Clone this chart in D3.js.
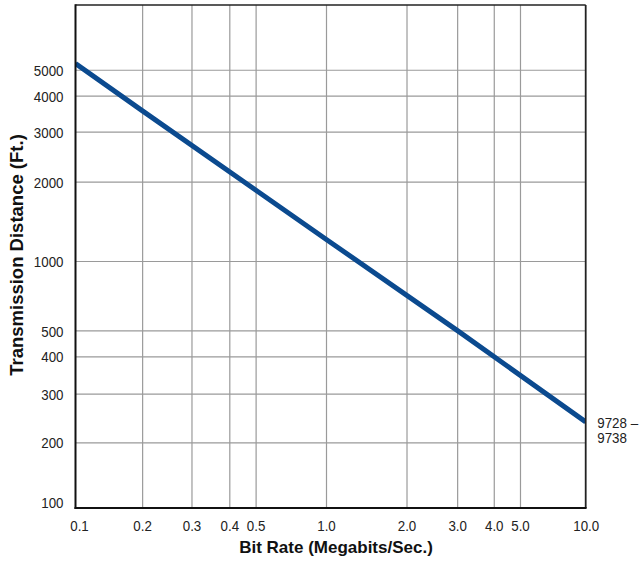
<!DOCTYPE html>
<html>
<head>
<meta charset="utf-8">
<script src="https://cdn.jsdelivr.net/npm/d3@7"></script>
<style>
    body { margin: 0; background: #fff; }
    .ticks text, .note { font-family: "Liberation Sans", Arial, sans-serif; font-size: 15.5px; fill: #222; }
    .axis-title { font-family: "Liberation Sans", Arial, sans-serif; font-weight: bold; fill: #111; }
</style>
</head>
<body>
<svg id="chart" width="641" height="561"></svg>
<script>
// curve values
var bitRate = [0.1, 0.2, 0.5, 1.0, 3.0, 10.0];
var distance = [5340, 3550, 1860, 1210, 500, 237];

var xTicks = [0.1, 0.2, 0.3, 0.4, 0.5, 1.0, 2.0, 3.0, 4.0, 5.0, 10.0];
var xTickLabels = ["0.1", "0.2", "0.3", "0.4", "0.5", "1.0", "2.0", "3.0", "4.0", "5.0", "10.0"];
var yTicks = [100, 200, 300, 400, 500, 1000, 2000, 3000, 4000, 5000];
var yTickLabels = ["100", "200", "300", "400", "500", "1000", "2000", "3000", "4000", "5000"];
var partLabel = ["9728 \u2013", "9738"];

// the printed log paper is not an exact log ruling, so each decade
// is mapped piecewise through the positions of its 1..5,10 lines
var mantissa = [1, 2, 3, 4, 5, 10];
var lowerRuling = [0, 0.266, 0.463, 0.614, 0.719, 1];
var upperRuling = [0, 0.31, 0.505, 0.646, 0.747, 1];

function paperScale(start, r0, r1, r2) {
    var dom = [], rng = [];
    mantissa.forEach(function(m, i) {
        dom.push(start * m);
        rng.push(r0 + lowerRuling[i] * (r1 - r0));
    });
    mantissa.slice(1).forEach(function(m, i) {
        dom.push(start * 10 * m);
        rng.push(r1 + upperRuling[i + 1] * (r2 - r1));
    });
    return d3.scaleLog().domain(dom).range(rng);
}

var plotLeft = 75.5, plotRight = 585.7, plotTop = 5, plotBottom = 508;
var x = paperScale(0.1, plotLeft, 326, plotRight);
var y = paperScale(100, plotBottom, 261, plotTop);

var svg = d3.select("#chart");

// squeeze Liberation Sans to the narrow face of the original
function narrow(sel, k) {
    sel.each(function() {
        var w = this.getComputedTextLength();
        d3.select(this).attr("textLength", w * k).attr("lengthAdjust", "spacingAndGlyphs");
    });
}

// grid
svg.append("g")
    .attr("transform", "translate(0," + plotBottom + ")")
    .call(d3.axisBottom(x)
        .tickValues(xTicks.slice(1, -1))
        .tickSize(-(plotBottom - plotTop))
        .tickFormat(""))
    .call(function(g) { g.select(".domain").remove(); })
    .selectAll("line").attr("stroke", "#9a9a9a").attr("stroke-width", 1.2);

svg.append("g")
    .attr("transform", "translate(" + plotLeft + ",0)")
    .call(d3.axisLeft(y)
        .tickValues(yTicks.slice(1))
        .tickSize(-(plotRight - plotLeft))
        .tickFormat(""))
    .call(function(g) { g.select(".domain").remove(); })
    .selectAll("line").attr("stroke", "#9a9a9a").attr("stroke-width", 1.2);

// curve
svg.append("clipPath").attr("id", "plot-clip")
    .append("rect")
    .attr("x", plotLeft).attr("y", plotTop)
    .attr("width", plotRight - plotLeft).attr("height", plotBottom - plotTop);

var line = d3.line()
    .x(function(d) { return x(d[0]); })
    .y(function(d) { return y(d[1]); });

svg.append("path")
    .datum(d3.zip(bitRate, distance))
    .attr("clip-path", "url(#plot-clip)")
    .attr("fill", "none")
    .attr("stroke", "#0b4a8f")
    .attr("stroke-width", 5)
    .attr("d", line);

// frame
var frame = svg.append("g");
frame.append("line").attr("x1", plotLeft).attr("x2", plotRight).attr("y1", plotTop).attr("y2", plotTop)
    .attr("stroke", "#222").attr("stroke-width", 1.5);
frame.append("line").attr("x1", plotRight).attr("x2", plotRight).attr("y1", plotTop).attr("y2", plotBottom)
    .attr("stroke", "#222").attr("stroke-width", 1.8);
frame.append("line").attr("x1", plotLeft).attr("x2", plotLeft).attr("y1", plotTop - 0.75).attr("y2", plotBottom + 1)
    .attr("stroke", "#111").attr("stroke-width", 2);
frame.append("line").attr("x1", plotLeft - 1).attr("x2", plotRight + 0.9).attr("y1", plotBottom).attr("y2", plotBottom)
    .attr("stroke", "#111").attr("stroke-width", 2.2);

// tick labels
var xAxis = svg.append("g")
    .attr("transform", "translate(0," + plotBottom + ")")
    .call(d3.axisBottom(x)
        .tickValues(xTicks)
        .tickSize(0)
        .tickPadding(11.7)
        .tickFormat(function(d, i) { return xTickLabels[i]; }));
xAxis.attr("class", "ticks").attr("font-family", null).attr("font-size", null);
xAxis.select(".domain").remove();
xAxis.selectAll("text")
    .attr("dx", function(d, i) { return i === 0 ? 3.5 : 0; })
    .call(narrow, 0.86);

var yAxis = svg.append("g")
    .attr("transform", "translate(" + plotLeft + ",0)")
    .call(d3.axisLeft(y)
        .tickValues(yTicks)
        .tickSize(0)
        .tickPadding(12)
        .tickFormat(function(d, i) { return yTickLabels[i]; }));
yAxis.attr("class", "ticks").attr("font-family", null).attr("font-size", null);
yAxis.select(".domain").remove();
yAxis.selectAll("text")
    .attr("y", function(d, i) { return i === 0 ? -6 : 0; })
    .attr("dy", "0.36em")
    .call(narrow, 0.86);

// part number note at the right end of the curve
svg.selectAll("text.note")
    .data(partLabel)
    .join("text")
    .attr("class", "note")
    .attr("x", 597.3)
    .attr("y", function(d, i) { return 428.3 + i * 14.4; })
    .text(function(d) { return d; })
    .call(narrow, 0.86);

// axis titles
svg.append("text")
    .attr("class", "axis-title")
    .attr("x", 336)
    .attr("y", 553)
    .attr("text-anchor", "middle")
    .attr("font-size", 17)
    .text("Bit Rate (Megabits/Sec.)");

svg.append("text")
    .attr("class", "axis-title")
    .attr("transform", "translate(22.5,255) rotate(-90)")
    .attr("text-anchor", "middle")
    .attr("font-size", 18.5)
    .text("Transmission Distance (Ft.)");
</script>
</body>
</html>
